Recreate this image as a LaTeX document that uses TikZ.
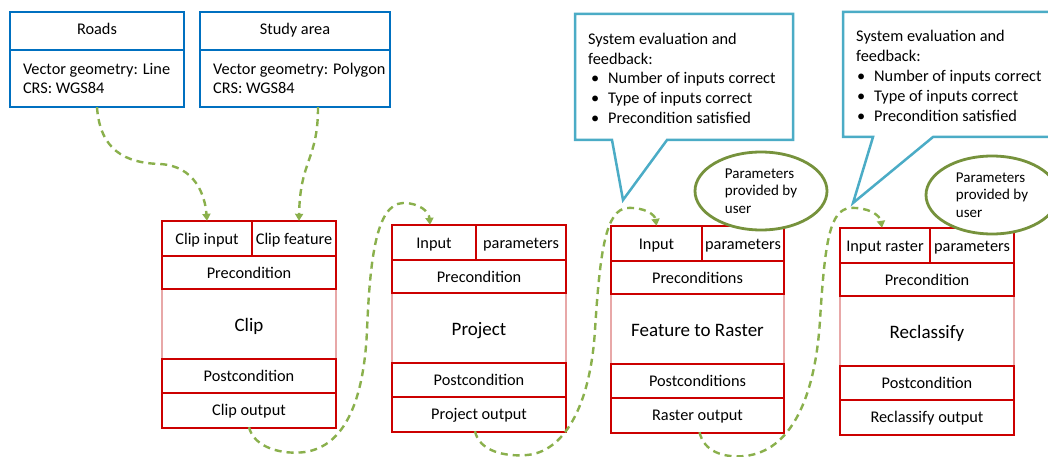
\documentclass[tikz,border=0pt]{standalone}
\usepackage{fontspec}
\setmainfont{Carlito}
\usetikzlibrary{arrows.meta,shapes.geometric}
\definecolor{boxblue}{HTML}{0070C0}
\definecolor{callblue}{HTML}{4BACC6}
\definecolor{procred}{HTML}{CC0000}
\definecolor{fadered}{HTML}{E8A8A8}
\definecolor{flowgreen}{HTML}{8AB04C}
\definecolor{ellgreen}{HTML}{76923C}
\newcommand\procbox[5]{%
  \node[cell, minimum width={#3-#2}, minimum height=35] (#1in) at ({(#2+#3)/2},{#5+17.5}) {\pIn};
  \node[cell, minimum width={#4-#3}, minimum height=35] (#1par) at ({(#3+#4)/2},{#5+17.5}) {\pPar};
  \node[cell, minimum width={#4-#2}, minimum height=33] (#1pre) at ({(#2+#4)/2},{#5+51.5}) {\pPre};
  \node[bigcell, minimum width={#4-#2}, minimum height=70] (#1main) at ({(#2+#4)/2},{#5+103}) {\pMain};
  \node[cell, minimum width={#4-#2}, minimum height=34] (#1post) at ({(#2+#4)/2},{#5+155}) {\pPost};
  \node[cell, minimum width={#4-#2}, minimum height=35] (#1out) at ({(#2+#4)/2},{#5+188.5}) {\pOut};
  \draw[thinred] (#3,#5) -- (#3,#5+35);
  \draw[thinred] (#2,#5+35) -- (#4,#5+35);
  \draw[thinred] (#2,#5+172) -- (#4,#5+172);
  \draw[fadeline] (#2,#5+68) -- (#2,#5+138) (#4,#5+68) -- (#4,#5+138);
  \draw[thickred] (#2,#5) rectangle (#4,#5+68);
  \draw[thickred] (#2,#5+138) rectangle (#4,#5+207);
}
\begin{document}
\begin{tikzpicture}[x=1pt,y=-1pt,
  txt/.style={font=\fontsize{16.3}{19.75}\selectfont, inner sep=0pt},
  cell/.style={txt, text height=13.5pt, text depth=2pt},
  bigcell/.style={font=\fontsize{19}{23}\selectfont, inner sep=0pt, text height=16pt, text depth=1.6pt},
  ellfont/.style={font=\fontsize{15}{17.5}\selectfont},
  bluebox/.style={draw=boxblue, line width=2.6pt},
  bluediv/.style={draw=boxblue, line width=1.6pt},
  thinred/.style={draw=procred, line width=1.2pt},
  thickred/.style={draw=procred, line width=2.9pt},
  fadeline/.style={draw=fadered, line width=1.6pt},
  calloutbox/.style={draw=callblue, line width=2.5pt, fill=white, line join=miter},
  paramell/.style={ellipse, draw=ellgreen, line width=2.8pt, fill=white, inner sep=0pt,
    minimum width=132, minimum height=78, align=left, ellfont},
  flow/.style={draw=flowgreen, line width=2.4pt, dash pattern=on 7pt off 5pt,
    -{Triangle[length=7pt,width=8pt]}},
]
\useasboundingbox (0,0) rectangle (1048,457);
\clip (0,0) rectangle (1048,457);
\fill[white] (0,0) rectangle (1048,457);

% ---- input data boxes
\node[cell, minimum width=174, minimum height=33] (roadshead) at (97,28.5) {Roads};
\node[minimum width=174, minimum height=57, inner sep=0pt] (roadsbody) at (97,78.5) {};
\node[txt, anchor=west, align=left] (roadstxt) at ([xshift=13pt]roadsbody.west) {Vector geometry: Line\\CRS: WGS84};
\draw[bluediv] (10,50) -- (184,50);
\draw[bluebox] (10,12) rectangle (184,107);

\node[cell, minimum width=190, minimum height=33] (studyhead) at (295,28.5) {Study area};
\node[minimum width=190, minimum height=57, inner sep=0pt] (studybody) at (295,78.5) {};
\node[txt, anchor=west, align=left] (studytxt) at ([xshift=-82pt]studybody.center) {Vector geometry: Polygon\\CRS: WGS84};
\draw[bluediv] (200,50) -- (390,50);
\draw[bluebox] (200,12) rectangle (390,107);

% ---- process boxes
\def\pIn{Clip input}\def\pPar{Clip feature}\def\pPre{Precondition}\def\pMain{Clip}\def\pPost{Postcondition}\def\pOut{Clip output}
\procbox{clip}{162}{252}{336}{221}
\def\pIn{Input}\def\pPar{parameters}\def\pPre{Precondition}\def\pMain{Project}\def\pPost{Postcondition}\def\pOut{Project output}
\procbox{proj}{392}{476}{566}{225}
\def\pIn{Input}\def\pPar{parameters}\def\pPre{Preconditions}\def\pMain{Feature to Raster}\def\pPost{Postconditions}\def\pOut{Raster output}
\procbox{feat}{611}{702}{784}{226}
\def\pIn{Input raster}\def\pPar{parameters}\def\pPre{Precondition}\def\pMain{Reclassify}\def\pPost{Postcondition}\def\pOut{Reclassify output}
\procbox{recl}{840}{930}{1014}{228}

% ---- callouts
\draw[calloutbox] (575,14) -- (793,14) -- (793,140) -- (667,140) -- (623,200) -- (612,140) -- (575,140) -- cycle;
\node[txt, anchor=base west] (c1a) at (588,45) {System evaluation and};
\node[txt, anchor=base west] (c1b) at (588,64.5) {feedback:};
\node[txt, anchor=base west] (c1d1) at (591,84) {\textbullet};
\node[txt, anchor=base west] (c1c1) at (608,84) {Number of inputs correct};
\node[txt, anchor=base west] (c1d2) at (591,104) {\textbullet};
\node[txt, anchor=base west] (c1c2) at (608,104) {Type of inputs correct};
\node[txt, anchor=base west] (c1d3) at (591,124) {\textbullet};
\node[txt, anchor=base west] (c1c3) at (608,124) {Precondition satisfied};

\draw[calloutbox] (843,12) -- (1062,12) -- (1062,137) -- (933,137) -- (853,203) -- (873,137) -- (843,137) -- cycle;
\node[txt, anchor=base west] (c2a) at (856,42) {System evaluation and};
\node[txt, anchor=base west] (c2b) at (856,62) {feedback:};
\node[txt, anchor=base west] (c2d1) at (857,81.5) {\textbullet};
\node[txt, anchor=base west] (c2c1) at (874,81.5) {Number of inputs correct};
\node[txt, anchor=base west] (c2d2) at (857,101.5) {\textbullet};
\node[txt, anchor=base west] (c2c2) at (874,101.5) {Type of inputs correct};
\node[txt, anchor=base west] (c2d3) at (857,121.5) {\textbullet};
\node[txt, anchor=base west] (c2c3) at (874,121.5) {Precondition satisfied};

% ---- parameter ellipses
\node[paramell] (ell1) at (761,191) {Parameters\\provided by\\user};
\node[paramell] (ell2) at (992,195) {Parameters\\provided by\\user};

% ---- flow connectors
\draw[flow] (roadsbody.south) .. controls (100,150) and (125,163) .. (160,164)
  .. controls (195,166) and (205,195) .. (clipin.north);
\draw[flow] ([xshift=23pt]studybody.south) .. controls (318,160) and (300,160) .. ([xshift=5pt]clippar.north);
\draw[flow] (clipout.south) .. controls (254,448) and (283,455) .. (305,452)
  .. controls (345,446) and (364,400) .. (367,330)
  .. controls (370,260) and (376,204) .. (403,203)
  .. controls (420,203) and (429,212) .. ([xshift=-4pt]projin.north);
\draw[flow] ([xshift=-4pt]projout.south) .. controls (479,451) and (505,457) .. (527,455)
  .. controls (562,452) and (590,410) .. (595,330)
  .. controls (600,250) and (606,210) .. (627,208)
  .. controls (645,207) and (655,215) .. (featin.north);
\draw[flow] ([xshift=2pt]featout.south) .. controls (704,452) and (724,458) .. (745,456)
  .. controls (790,451) and (815,400) .. (820,320)
  .. controls (825,240) and (830,210) .. (850,208)
  .. controls (868,207) and (880,215) .. ([xshift=-3pt]reclin.north);
\end{tikzpicture}
\end{document}
